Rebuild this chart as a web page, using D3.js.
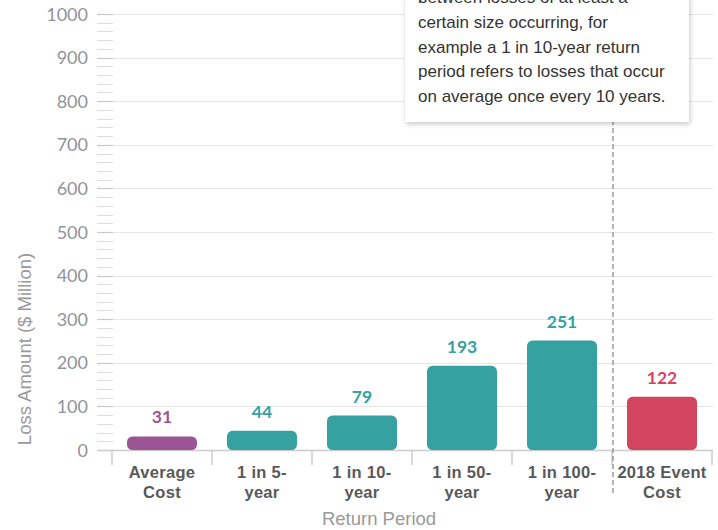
<!DOCTYPE html>
<html><head><meta charset="utf-8">
<script src="https://cdn.jsdelivr.net/npm/d3@7"></script>
<style>
html,body{margin:0;padding:0;background:#fff;}
svg{display:block;}
</style></head>
<body>
<svg id="chart" width="718" height="530"></svg>
<script>
const categories = [["Average","Cost"],["1 in 5-","year"],["1 in 10-","year"],["1 in 50-","year"],["1 in 100-","year"],["2018 Event","Cost"]];
const values = [31, 44, 79, 193, 251, 122];
const colors = ["#9c5594","#36a1a1","#36a1a1","#36a1a1","#36a1a1","#d3455e"];
const yTicks = [0,100,200,300,400,500,600,700,800,900,1000];
const tooltipLines = ["between losses of at least a","certain size occurring, for","example a 1 in 10-year return","period refers to losses that occur","on average once every 10 years."];

const svg = d3.select("#chart");
const x = d3.scaleBand().domain(d3.range(categories.length)).range([112, 712]).paddingInner(0.3).paddingOuter(0.15);
const y = d3.scaleLinear().domain([0, 1000]).range([450, 14]);

const defs = svg.append("defs");
const f = defs.append("filter").attr("id","shadow").attr("x","-10%").attr("y","-10%").attr("width","120%").attr("height","130%");
f.append("feDropShadow").attr("dx",1).attr("dy",2).attr("stdDeviation",2.5).attr("flood-color","#000").attr("flood-opacity",0.22);

// gridlines
svg.append("g").selectAll("line").data(yTicks).join("line")
  .attr("x1",113).attr("x2",713).attr("y1",d=>Math.round(y(d))+0.5).attr("y2",d=>Math.round(y(d))+0.5)
  .attr("stroke","#e6e6e6").attr("stroke-width",1);

// minor ticks
const minor = d3.range(0, 1001, 20).filter(v => v % 100 !== 0);
svg.append("g").selectAll("line").data(minor).join("line")
  .attr("x1",97).attr("x2",113).attr("y1",d=>Math.round(y(d))+0.5).attr("y2",d=>Math.round(y(d))+0.5)
  .attr("stroke","#dcdcdc").attr("stroke-width",1);
svg.append("g").selectAll("line").data(yTicks).join("line")
  .attr("x1",97).attr("x2",113).attr("y1",d=>Math.round(y(d))+0.5).attr("y2",d=>Math.round(y(d))+0.5)
  .attr("stroke","#c8c8c8").attr("stroke-width",1.2);

// y tick labels
svg.append("g").selectAll("text").data(yTicks).join("text")
  .attr("x",88).attr("y",d=>y(d)+6.5).attr("text-anchor","end")
  .attr("font-family","Lato, sans-serif").attr("font-size",18).attr("fill","#8f939a")
  .text(d=>d);

// y axis title
svg.append("text").attr("transform","translate(31,349) rotate(-90)").attr("text-anchor","middle")
  .attr("font-family","'Liberation Sans', Arial, sans-serif").attr("font-size",18.5).attr("fill","#999")
  .text("Loss Amount ($ Million)");

// x axis line and ticks
svg.append("line").attr("x1",97).attr("x2",713).attr("y1",450.5).attr("y2",450.5).attr("stroke","#ccc").attr("stroke-width",1.5);
const bounds = d3.range(categories.length + 1).map(i => 112 + i * x.step());
svg.append("g").selectAll("line").data(bounds).join("line")
  .attr("x1",d=>d).attr("x2",d=>d).attr("y1",450).attr("y2",465).attr("stroke","#ccc").attr("stroke-width",1.5);

// dashed separator
svg.append("line").attr("x1",613).attr("x2",613).attr("y1",0).attr("y2",496)
  .attr("stroke","#999").attr("stroke-width",1.5).attr("stroke-dasharray","5,3");

// bars
svg.append("g").selectAll("rect").data(values).join("rect")
  .attr("x",(d,i)=>x(i)).attr("width",x.bandwidth())
  .attr("y",d=>y(d)).attr("height",d=>y(0)-y(d))
  .attr("rx",5.5).attr("ry",5.5)
  .attr("fill",(d,i)=>colors[i]);

// data labels
svg.append("g").selectAll("text").data(values).join("text")
  .attr("x",(d,i)=>x(i)+x.bandwidth()/2).attr("y",d=>y(d)-13)
  .attr("text-anchor","middle").attr("font-family","Lato, sans-serif").attr("font-weight","bold")
  .attr("font-size",17.5).attr("fill",(d,i)=>colors[i]).text(d=>d);

// category labels
const cl = svg.append("g").selectAll("text").data(categories).join("text")
  .attr("text-anchor","middle").attr("font-family","'Liberation Sans', Arial, sans-serif")
  .attr("font-weight","bold").attr("font-size",16.5).attr("letter-spacing",0.3).attr("fill","#595959");
cl.each(function(lines,i){
  const t = d3.select(this);
  lines.forEach((ln,j)=>{
    t.append("tspan").attr("x",x(i)+x.bandwidth()/2).attr("y",478+j*20).text(ln);
  });
});

// x axis title
svg.append("text").attr("x",379).attr("y",525).attr("text-anchor","middle")
  .attr("font-family","'Liberation Sans', Arial, sans-serif").attr("font-size",18.5).attr("fill","#999")
  .text("Return Period");

// tooltip
const tip = svg.append("g");
tip.append("rect").attr("x",405).attr("y",-40).attr("width",284).attr("height",162)
  .attr("fill","#fff").attr("filter","url(#shadow)");
tip.append("g").selectAll("text").data(tooltipLines).join("text")
  .attr("x",418).attr("y",(d,i)=>3 + i*24.8)
  .attr("font-family","'Liberation Sans', Arial, sans-serif").attr("font-size",17).attr("fill","#333")
  .text(d=>d);
</script>
</body></html>
